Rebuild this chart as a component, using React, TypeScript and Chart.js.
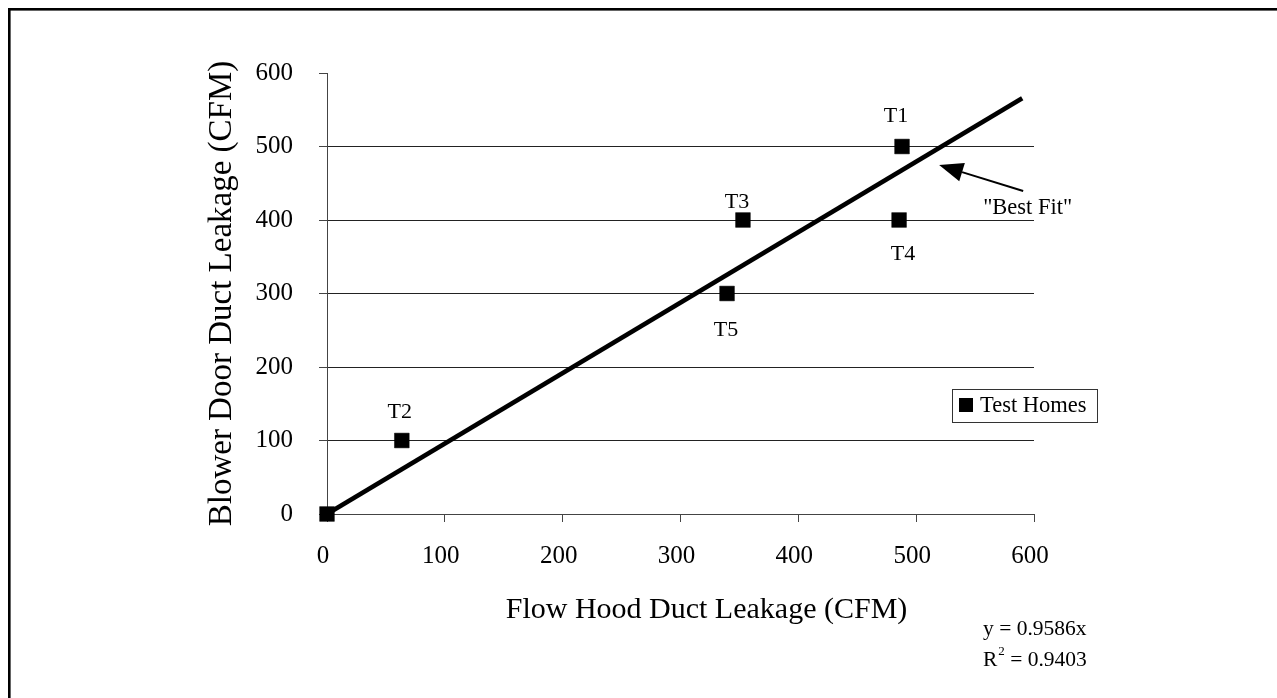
import React, { useEffect, useRef } from 'react';
import { Chart, registerables } from 'chart.js';

Chart.register(...registerables);

// ---- data ----
const POINT_NAMES = ['', 'T1', 'T2', 'T3', 'T4', 'T5'];
const FLOW_HOOD = [0, 488, 63.5, 353, 485.5, 339.5];
const BLOWER_DOOR = [0, 500, 100, 400, 400, 300];
const FIT_X = [0, 590];
const FIT_Y = [0, 565.6];
const AXIS_MIN = 0;
const AXIS_MAX = 600;
const AXIS_STEP = 100;
const SERIES_NAME = 'Test Homes';
const X_TITLE = 'Flow Hood Duct Leakage (CFM)';
const Y_TITLE = 'Blower Door Duct Leakage (CFM)';
const FIT_LABEL = '"Best Fit"';
const EQUATION = 'y = 0.9586x';
const R2_VALUE = '0.9403';
// arrow annotation in data coordinates: tail -> tip
const ARROW_TAIL = [590.8, 439.5];
const ARROW_TIP = [519.5, 474.8];

// ---- layout (pixels) ----
const W = 1277;
const H = 698;
const SERIF = '"Liberation Serif", "Times New Roman", Times, serif';
const LABEL_OFFSETS = [
  [0, 0],
  [-6, -30],
  [-2, -28],
  [-6, -18],
  [4, 34],
  [-1, 37],
];

const annotations = {
  id: 'annotations',
  beforeDraw(chart: any) {
    const { ctx } = chart;
    ctx.save();
    ctx.fillStyle = '#fff';
    ctx.fillRect(0, 0, W, H);
    ctx.fillStyle = '#000';
    ctx.fillRect(8, 8, W - 8, 2.6);
    ctx.fillRect(8, 8, 2.6, H - 8);
    ctx.restore();
  },
  afterDraw(chart: any) {
    const { ctx, chartArea } = chart;
    const xs = chart.scales.x;
    const ys = chart.scales.y;
    ctx.save();
    ctx.fillStyle = '#000';
    ctx.strokeStyle = '#000';

    // point labels
    ctx.font = `22px ${SERIF}`;
    ctx.textAlign = 'center';
    ctx.textBaseline = 'middle';
    POINT_NAMES.forEach((name, i) => {
      if (!name) return;
      const px = xs.getPixelForValue(FLOW_HOOD[i]) + LABEL_OFFSETS[i][0];
      const py = ys.getPixelForValue(BLOWER_DOOR[i]) + LABEL_OFFSETS[i][1];
      ctx.fillText(name, px, py);
    });

    // arrow
    const ax = xs.getPixelForValue(ARROW_TAIL[0]);
    const ay = ys.getPixelForValue(ARROW_TAIL[1]);
    const tx = xs.getPixelForValue(ARROW_TIP[0]);
    const ty = ys.getPixelForValue(ARROW_TIP[1]);
    const ang = Math.atan2(ty - ay, tx - ax);
    const headLen = 24;
    const headW = 9.5;
    const bx = tx - headLen * Math.cos(ang);
    const by = ty - headLen * Math.sin(ang);
    ctx.lineWidth = 2;
    ctx.beginPath();
    ctx.moveTo(ax, ay);
    ctx.lineTo(bx, by);
    ctx.stroke();
    ctx.beginPath();
    ctx.moveTo(tx, ty);
    ctx.lineTo(bx - headW * Math.sin(ang), by + headW * Math.cos(ang));
    ctx.lineTo(bx + headW * Math.sin(ang), by - headW * Math.cos(ang));
    ctx.closePath();
    ctx.fill();

    // "Best Fit" label
    ctx.textAlign = 'left';
    ctx.font = `22.5px ${SERIF}`;
    ctx.fillText(FIT_LABEL, ax - 40, ay + 17);

    // x axis title
    ctx.font = `30px ${SERIF}`;
    ctx.textAlign = 'center';
    ctx.fillText(X_TITLE, (chartArea.left + chartArea.right) / 2 + 26, chartArea.bottom + 96);

    // equation
    const ex = chartArea.right - 51;
    ctx.font = `21.5px ${SERIF}`;
    ctx.textAlign = 'left';
    ctx.fillText(EQUATION, ex, chartArea.bottom + 115);
    const ry = chartArea.bottom + 146;
    ctx.fillText('R', ex, ry);
    const rw = ctx.measureText('R').width;
    ctx.font = `13px ${SERIF}`;
    ctx.fillText('2', ex + rw + 1, ry - 8);
    const sw = ctx.measureText('2').width;
    ctx.font = `21.5px ${SERIF}`;
    ctx.fillText(' = ' + R2_VALUE, ex + rw + sw + 1, ry);

    // legend
    const lx = 952;
    const ly = 389;
    const lw = 145;
    const lh = 33;
    ctx.lineWidth = 1;
    ctx.strokeStyle = '#333';
    ctx.strokeRect(lx + 0.5, ly + 0.5, lw, lh);
    ctx.fillStyle = '#000';
    ctx.fillRect(lx + 7, ly + 9, 14, 14);
    ctx.font = `22.5px ${SERIF}`;
    ctx.textBaseline = 'middle';
    ctx.fillText(SERIES_NAME, lx + 28, ly + 17);

    ctx.restore();
  },
};

export default function App() {
  const ref = useRef<HTMLCanvasElement | null>(null);

  useEffect(() => {
    if (!ref.current) return;
    const points = FLOW_HOOD.map((x, i) => ({ x, y: BLOWER_DOOR[i] }));
    const fit = FIT_X.map((x, i) => ({ x, y: FIT_Y[i] }));
    const chart = new Chart(ref.current, {
      type: 'scatter',
      data: {
        datasets: [
          {
            label: SERIES_NAME,
            data: points,
            pointStyle: 'rect',
            pointRadius: 10.4,
            pointHoverRadius: 10.4,
            backgroundColor: '#000',
            borderColor: '#000',
            borderWidth: 0.5,
            showLine: false,
            clip: false,
          } as any,
          {
            label: 'Best Fit',
            type: 'line',
            data: fit,
            borderColor: '#000',
            borderWidth: 4.5,
            pointRadius: 0,
            fill: false,
            clip: false,
          } as any,
        ],
      },
      options: {
        animation: false,
        responsive: false,
        devicePixelRatio: 1,
        events: [],
        layout: { padding: { left: 0, top: 73, right: W - 1034, bottom: H - 514 - 50 } },
        plugins: {
          legend: { display: false },
          tooltip: { enabled: false },
          title: { display: false },
        },
        scales: {
          x: {
            type: 'linear',
            min: AXIS_MIN,
            max: AXIS_MAX,
            afterFit: (s: any) => {
              s.height = 50;
            },
            ticks: {
              stepSize: AXIS_STEP,
              color: '#000',
              font: { family: SERIF, size: 25 },
              padding: 19,
              labelOffset: -4,
              maxRotation: 0,
            },
            grid: {
              drawOnChartArea: false,
              tickLength: 8,
              tickColor: '#444',
              color: '#444',
            },
            border: { color: '#444', width: 1 },
          },
          y: {
            type: 'linear',
            min: AXIS_MIN,
            max: AXIS_MAX,
            afterFit: (s: any) => {
              s.width = 327;
            },
            ticks: {
              stepSize: AXIS_STEP,
              color: '#000',
              font: { family: SERIF, size: 25 },
              padding: 26,
            },
            grid: {
              tickLength: 8,
              tickColor: '#444',
              color: (c: any) => (c.tick && c.tick.value === AXIS_MAX ? 'rgba(0,0,0,0)' : '#222'),
            },
            border: { color: '#444', width: 1 },
            title: {
              display: true,
              text: Y_TITLE,
              color: '#000',
              font: { family: SERIF, size: 33, lineHeight: 1.2 },
              padding: { top: 203, bottom: 0 },
            },
          },
        },
      },
      plugins: [annotations],
    });
    return () => chart.destroy();
  }, []);

  return (
    <canvas
      ref={ref}
      width={W}
      height={H}
      style={{ position: 'fixed', left: 0, top: 0, width: W, height: H, display: 'block' }}
    />
  );
}
